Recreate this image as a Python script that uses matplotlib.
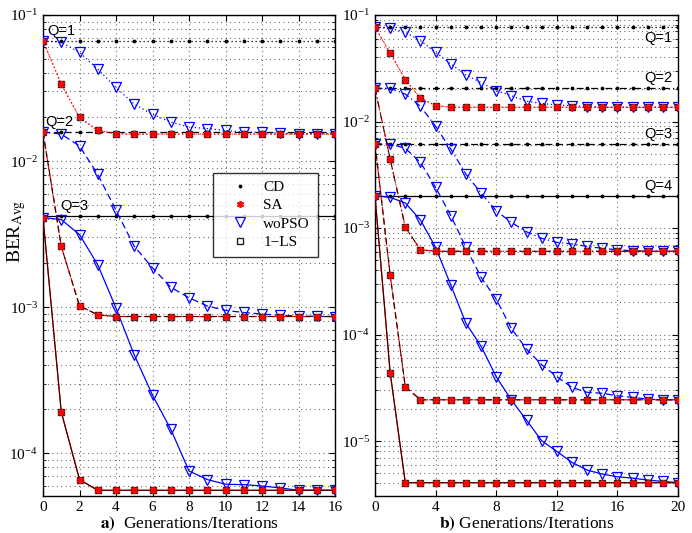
"""BER convergence of CD, SA, woPSO and 1-LS versus generations (two panels)."""

import matplotlib

matplotlib.use("Agg")

import matplotlib.pyplot as plt  # noqa: E402
from matplotlib.lines import Line2D  # noqa: E402
from matplotlib.ticker import LogLocator, NullFormatter  # noqa: E402

plt.rcParams["font.family"] = ["Liberation Serif", "DejaVu Serif"]
plt.rcParams["mathtext.fontset"] = "stix"

# ---- panel a) : Q = 1..3, generations 0..16 ----
LEFT_GEN = list(range(17))
LEFT_Q = [1, 2, 3]
LEFT_CD = [0.0666, 0.0158, 0.0042]
LEFT_SA = [
    [0.0666, 0.0336, 0.0199, 0.0162, 0.0154, 0.0153, 0.0153, 0.0153, 0.0153,
     0.0153, 0.0153, 0.0153, 0.0153, 0.0153, 0.0153, 0.0153, 0.0153],
    [0.0158, 0.00261, 0.00102, 0.000887, 0.000863, 0.000863, 0.000863, 0.000863,
     0.000863, 0.000863, 0.000863, 0.000863, 0.000863, 0.000863, 0.000863,
     0.000863, 0.000863],
    [0.0041, 0.000192, 6.61e-5, 5.58e-5, 5.58e-5, 5.58e-5, 5.58e-5, 5.58e-5,
     5.58e-5, 5.58e-5, 5.58e-5, 5.58e-5, 5.58e-5, 5.58e-5, 5.58e-5, 5.58e-5,
     5.58e-5],
]
LEFT_WOPSO = [
    [0.0666, 0.0650, 0.0555, 0.0426, 0.0319, 0.0245, 0.0209, 0.0185, 0.0171,
     0.0167, 0.0162, 0.0158, 0.0157, 0.0155, 0.0154, 0.0154, 0.0154],
    [0.0158, 0.0153, 0.0127, 0.0081, 0.00461, 0.00261, 0.00186, 0.00137,
     0.00116, 0.00102, 0.00095, 0.00092, 0.000897, 0.00088, 0.00087, 0.000865,
     0.000863],
    [0.0041, 0.00398, 0.00314, 0.00195, 0.000986, 0.000471, 0.00025, 0.000146,
     7.57e-5, 6.61e-5, 6.14e-5, 6.1e-5, 5.97e-5, 5.79e-5, 5.58e-5, 5.58e-5,
     5.58e-5],
]
# 1-LS lands on the SA points everywhere in the picture
LEFT_LS = LEFT_SA

# ---- panel b) : Q = 1..4, generations 0..20 ----
RIGHT_GEN = list(range(21))
RIGHT_Q = [1, 2, 3, 4]
RIGHT_CD = [0.0766, 0.0205, 0.0062, 0.00201]
RIGHT_SA = [
    [0.0766, 0.0440, 0.0247, 0.0166, 0.0141, 0.0136, 0.0136, 0.0136, 0.0136,
     0.0136, 0.0136, 0.0136, 0.0136, 0.0136, 0.0136, 0.0136, 0.0136, 0.0136,
     0.0136, 0.0136, 0.0136],
    [0.0205, 0.00445, 0.00102, 0.000625, 0.000605, 0.000605, 0.000605, 0.000605,
     0.000605, 0.000605, 0.000605, 0.000605, 0.000605, 0.000605, 0.000605,
     0.000605, 0.000605, 0.000605, 0.000605, 0.000605, 0.000605],
    [0.0062, 0.000362, 3.24e-5, 2.44e-5, 2.44e-5, 2.44e-5, 2.44e-5, 2.44e-5,
     2.44e-5, 2.44e-5, 2.44e-5, 2.44e-5, 2.44e-5, 2.44e-5, 2.44e-5, 2.44e-5,
     2.44e-5, 2.44e-5, 2.44e-5, 2.44e-5, 2.44e-5],
    [0.00201, 4.4e-5, 4.07e-6, 4.07e-6, 4.07e-6, 4.07e-6, 4.07e-6, 4.07e-6,
     4.07e-6, 4.07e-6, 4.07e-6, 4.07e-6, 4.07e-6, 4.07e-6, 4.07e-6, 4.07e-6,
     4.07e-6, 4.07e-6, 4.07e-6, 4.07e-6, 4.07e-6],
]
RIGHT_WOPSO = [
    [0.0766, 0.0750, 0.0688, 0.0574, 0.0446, 0.0347, 0.0273, 0.0233, 0.0195,
     0.0175, 0.0155, 0.0148, 0.0143, 0.0141, 0.0138, 0.0136, 0.0136, 0.0136,
     0.0136, 0.0136, 0.0136],
    [0.0205, 0.0205, 0.0181, 0.0139, 0.0090, 0.00552, 0.00321, 0.00213, 0.00145,
     0.00113, 0.000923, 0.0008, 0.000734, 0.000708, 0.000673, 0.000645,
     0.000625, 0.000612, 0.000605, 0.000605, 0.000605],
    [0.0062, 0.00615, 0.0056, 0.00414, 0.00241, 0.00131, 0.000659, 0.000344,
     0.000215, 0.000114, 7.31e-5, 5.21e-5, 4.02e-5, 3.19e-5, 2.87e-5, 2.81e-5,
     2.66e-5, 2.57e-5, 2.48e-5, 2.44e-5, 2.44e-5],
    [0.00201, 0.00194, 0.00172, 0.00119, 0.000659, 0.000292, 0.000128, 7.77e-5,
     4.02e-5, 2.43e-5, 1.575e-5, 1.007e-5, 8.0e-6, 6.31e-6, 5.34e-6, 4.9e-6,
     4.62e-6, 4.49e-6, 4.3e-6, 4.18e-6, 4.07e-6],
]
RIGHT_LS = RIGHT_SA

DOTTED = (0, (1, 2.2))
DASHED = (0, (5.5, 3))
DASHDOT = (0, (5.5, 2.5, 1, 2.5))
SOLID = "-"

BLUE = "#0000ff"
RED = "#ff0000"
GRID = (0, (0.8, 3.2))
ASTERISK = (6, 2, 0)  # MATLAB-like '*' marker


def draw_panel(ax, gens, qs, cd, sa, wopso, ls1, styles):
    for i, q in enumerate(qs):
        st = styles[i]
        ax.plot(gens, [cd[i]] * len(gens), color="black", ls=st, lw=0.9,
                marker=".", ms=3.5, zorder=2)
        ax.plot(gens, wopso[i], color=BLUE, ls=st, lw=0.9, marker="v", ms=6.5,
                mfc="none", mec=BLUE, mew=0.9, zorder=3)
        # SA line under the 1-LS line, markers on top of everything
        ax.plot(gens, sa[i], color=RED, ls=st, lw=0.9, zorder=3.5)
        ax.plot(gens, ls1[i], color="#3a0000" if i else RED, ls=st, lw=0.8,
                marker="s", ms=5, mfc="none", mec="#222222", mew=1.0, zorder=4)
        ax.plot(gens, sa[i], ls="none", marker=ASTERISK, ms=5, mfc=RED,
                mec=RED, mew=1.2, zorder=5)

    ax.set_yscale("log")
    ax.set_xlim(gens[0], gens[-1])
    ax.yaxis.set_major_locator(LogLocator(base=10, numticks=10))
    ax.yaxis.set_minor_locator(LogLocator(base=10, subs=range(2, 10), numticks=20))
    ax.yaxis.set_minor_formatter(NullFormatter())
    ax.tick_params(which="both", direction="in", top=True, right=True,
                   labelsize=11)
    ax.tick_params(which="major", length=4.5, width=0.8)
    ax.tick_params(which="minor", length=2.5, width=0.6)
    ax.grid(True, which="major", axis="both", color="0.3", ls=GRID, lw=0.8)
    ax.grid(True, which="minor", axis="y", color="0.3", ls=GRID, lw=0.8)
    ax.set_axisbelow(True)
    for sp in ax.spines.values():
        sp.set_linewidth(1.0)


fig = plt.figure(figsize=(6.92, 5.33), dpi=100)
ax_a = fig.add_axes([43 / 692, 1 - 496 / 533, 292 / 692, 481 / 533])
ax_b = fig.add_axes([375 / 692, 1 - 496 / 533, 303 / 692, 481 / 533])

draw_panel(ax_a, LEFT_GEN, LEFT_Q, LEFT_CD, LEFT_SA, LEFT_WOPSO, LEFT_LS,
           [DOTTED, DASHED, SOLID])
draw_panel(ax_b, RIGHT_GEN, RIGHT_Q, RIGHT_CD, RIGHT_SA, RIGHT_WOPSO, RIGHT_LS,
           [DOTTED, DASHDOT, DASHED, SOLID])

ax_a.set_ylim(5.1e-5, 0.1)
ax_a.set_xticks(range(0, 17, 2))
ax_b.set_ylim(3.05e-6, 0.1)
ax_b.set_xticks(range(0, 21, 4))

# Q labels
qfont = dict(family=["Liberation Sans", "DejaVu Sans"], fontsize=10.5)
left_offsets = [(4, 3), (2, 3), (17, 3)]
for i, q in enumerate(LEFT_Q):
    ax_a.annotate(f"Q={q}", xy=(0, LEFT_CD[i]), xytext=left_offsets[i],
                  textcoords="offset pixels", ha="left", va="bottom", **qfont)
for i, q in enumerate(RIGHT_Q):
    if q == 1:
        off, va = (-6, -4), "top"
    else:
        off, va = (-6, 3), "bottom"
    ax_b.annotate(f"Q={q}", xy=(RIGHT_GEN[-1], RIGHT_CD[i]), xytext=off,
                  textcoords="offset pixels", ha="right", va=va, **qfont)

ax_a.set_ylabel(r"BER$_{\rm Avg}$", fontsize=14)
ax_a.yaxis.set_label_coords(-0.05, 0.55)
ax_a.set_xlabel(r"$\mathbf{a)}$  Generations/Iterations", fontsize=12.5,
                labelpad=0)
ax_b.set_xlabel(r"$\mathbf{b)}$ Generations/Iterations", fontsize=12.5,
                labelpad=0)

handles = [
    Line2D([], [], ls="none", marker=".", ms=3.5, color="black"),
    Line2D([], [], ls="none", marker=ASTERISK, ms=5, color=RED, mew=1.2),
    Line2D([], [], ls="none", marker="v", ms=6.5, mfc="none", mec=BLUE,
           mew=0.9),
    Line2D([], [], ls="none", marker="s", ms=5, mfc="none", mec="#222222",
           mew=1.0),
]
leg = ax_a.legend(handles, ["CD", "SA", "woPSO", "1\u2212LS"],
                  loc="upper left", bbox_to_anchor=(0.582, 0.672),
                  fontsize=11, frameon=True, fancybox=False, borderpad=0.5,
                  handlelength=2.6, handletextpad=0.2, labelspacing=0.3,
                  borderaxespad=0)
leg.get_frame().set_edgecolor("black")
leg.get_frame().set_linewidth(1.0)

fig.savefig("out.png", dpi=100)
